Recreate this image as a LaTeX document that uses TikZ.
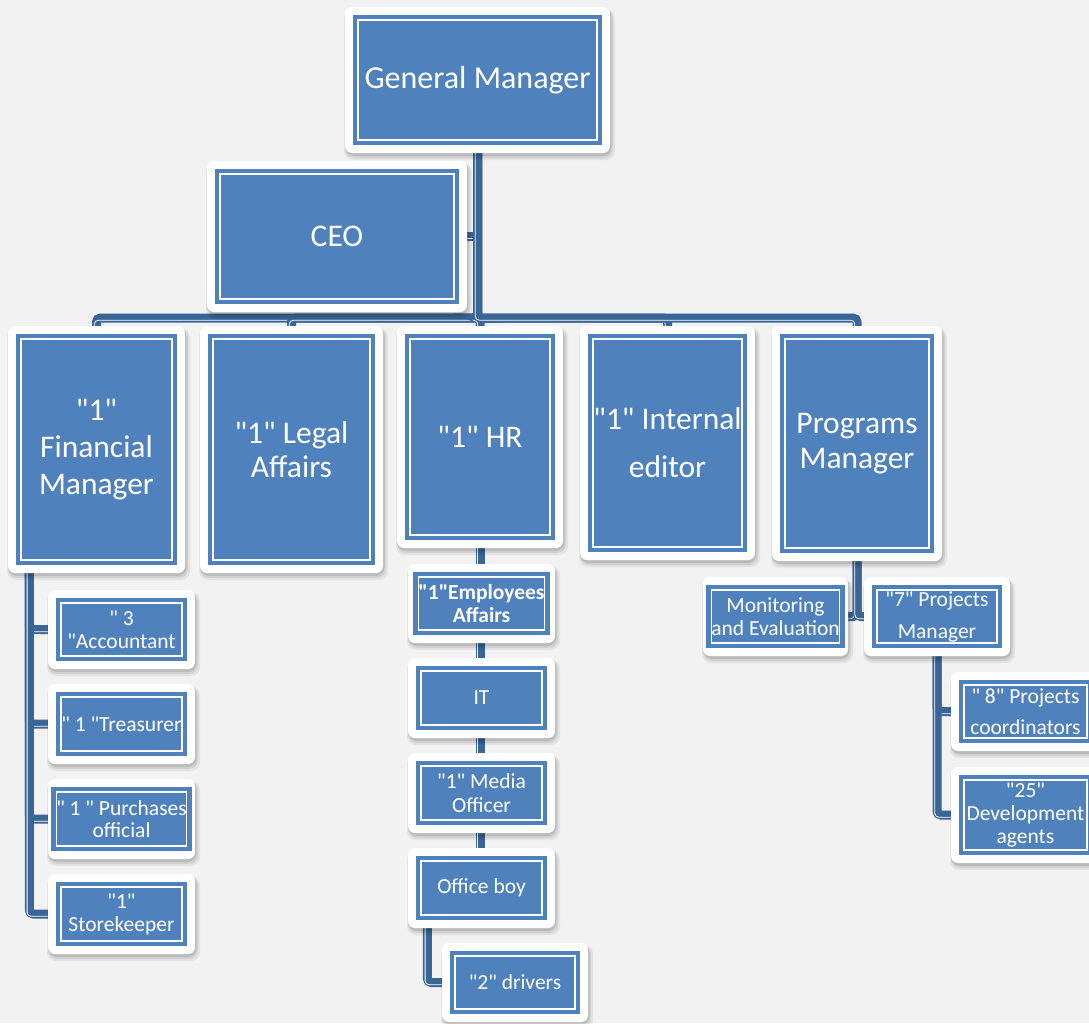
\documentclass[tikz,border=0pt]{standalone}
\usepackage{fontspec}
\setmainfont{Carlito}[Ligatures=TeXOff]
\usetikzlibrary{calc}
\definecolor{boxblue}{HTML}{4F81BD}
\definecolor{connblue}{HTML}{3A6597}
\definecolor{bggray}{HTML}{F2F2F2}
\pgfdeclarelayer{bg}
\pgfdeclarelayer{conn}
\pgfdeclarelayer{frame}
\pgfsetlayers{bg,conn,frame,main}
\tikzset{
  orgbox/.style={rectangle, fill=boxblue, draw=white, line width=1.4pt, inner sep=0pt,
    text=white, align=center, preaction={draw=boxblue, line width=10pt}},
  frameshape/.style={fill=white, rounded corners=7pt},
  shadowshape/.style={fill=black, rounded corners=9pt},
  conn/.style={draw=connblue, line width=9pt, rounded corners=4pt,
    postaction={draw=white, line width=0.8pt, transform canvas={shift={(-2.2pt,-2.2pt)}}}}
}
\newcommand\obox[8]{%
  \pgfmathsetmacro\obcx{(#2+#4)/2}\pgfmathsetmacro\obcy{(#3+#5)/2}%
  \pgfmathsetmacro\obw{#4-#2-26}\pgfmathsetmacro\obh{#5-#3-26}%
  \node[orgbox, minimum width=\obw pt, minimum height=\obh pt,
        font=\fontsize{#6}{#7}\selectfont] (#1) at (\obcx,\obcy) {#8};
  \begin{pgfonlayer}{frame}
    \path[shadowshape, opacity=0.06] (#2-1,#3+2) rectangle (#4+5,#5+7);
    \path[shadowshape, opacity=0.08] (#2,#3+2) rectangle (#4+3,#5+5);
    \path[shadowshape, opacity=0.10] (#2,#3+1) rectangle (#4+1.5,#5+3);
    \path[frameshape] (#2,#3) rectangle (#4,#5);
  \end{pgfonlayer}}
\begin{document}
\begin{tikzpicture}[x=1pt,y=-1pt]
\useasboundingbox (0,0) rectangle (1089,1023);
\begin{pgfonlayer}{bg}
  \fill[bggray] (0,0) rectangle (1089,1023);
\end{pgfonlayer}

\obox{gm}{345}{7}{610}{153}{32}{38}{General Manager}
\obox{ceo}{207}{161}{467}{312}{31.5}{38}{CEO}
\obox{fin}{8}{326}{185}{573}{31.5}{37}{"1"\\Financial\\Manager}
\obox{leg}{200}{326}{383}{573}{31.5}{34}{"1" Legal\\Affairs}
\obox{hr}{397}{326}{563}{548}{31.5}{37}{"1" HR}
\obox{edi}{580}{326}{755}{560}{31.5}{48}{"1" Internal\\editor}
\obox{pm}{772}{326}{942}{561}{31.5}{35}{Programs\\Manager}

\obox{acc}{48}{590}{195}{669}{21.5}{23}{" 3\\"Accountant}
\obox{tre}{48}{684}{195}{764}{21.5}{23}{" 1 "Treasurer}
\obox{pur}{48}{779}{195}{859}{21.5}{22}{" 1 " Purchases\\official}
\obox{sto}{48}{874}{195}{954}{21.5}{23}{"1"\\Storekeeper}

\obox{emp}{408}{564}{555}{643}{21.5}{23}{\bfseries "1"Employees\\\bfseries Affairs}
\obox{it}{408}{658}{555}{738}{21.5}{23}{IT}
\obox{med}{408}{753}{555}{833}{21.5}{24}{"1" Media\\Officer}
\obox{ob}{408}{848}{555}{928}{21.5}{23}{Office boy}
\obox{drv}{442}{943}{588}{1022}{21.5}{23}{"2" drivers}

\obox{mon}{703}{577}{848}{656}{21.5}{23}{Monitoring\\and Evaluation}
\obox{pmseven}{864}{577}{1010}{656}{21.5}{32}{"7" Projects\\Manager}
\obox{coo}{951}{672}{1100}{751}{21.5}{31}{" 8" Projects\\coordinators}
\obox{dev}{951}{767}{1100}{863}{21.5}{23}{"25"\\Development\\agents}

\begin{pgfonlayer}{conn}
  \coordinate (bus) at (0,318);
  \draw[conn] (ceo.east) -- (ceo.east -| gm.south);
  \foreach \c in {fin,leg,hr,edi,pm}
    \draw[conn] (gm.south) -- (gm.south |- bus) -| (\c.north);
  \coordinate (finx) at ([xshift=9pt]fin.south west);
  \foreach \c in {acc,tre,pur,sto}
    \draw[conn] (finx) |- (\c.west);
  \draw[conn] (hr.south) -- (hr.south |- ob.north);
  \coordinate (obx) at ([xshift=7pt]ob.south west);
  \draw[conn] (obx) |- (drv.west);
  \draw[conn] (pm.south) |- (mon.east);
  \draw[conn] (pm.south) |- (pmseven.west);
  \draw[conn] (pmseven.south) |- (coo.west);
  \draw[conn] (pmseven.south) |- (dev.west);
\end{pgfonlayer}
\end{tikzpicture}
\end{document}
